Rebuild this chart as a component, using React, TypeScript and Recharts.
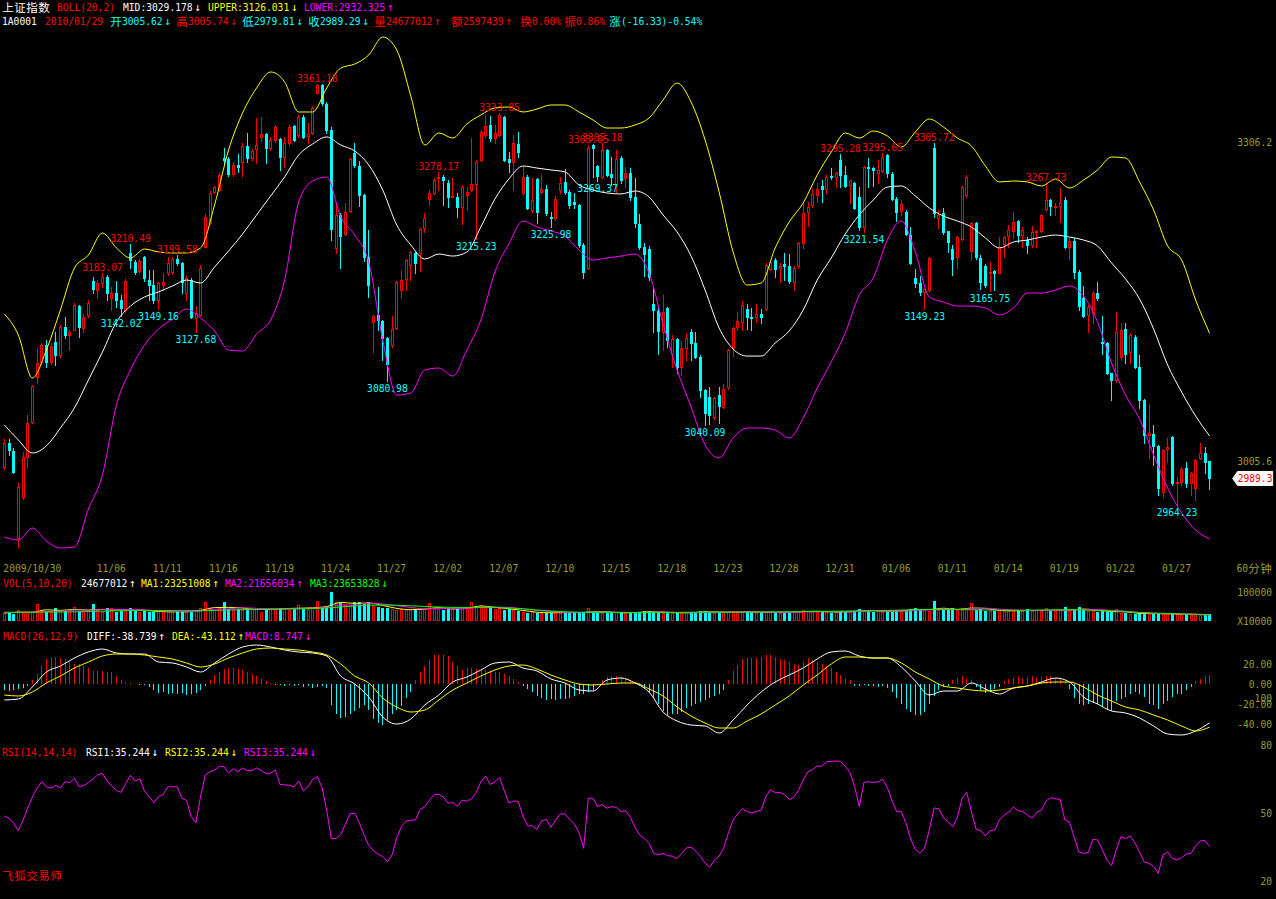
import React from "react";
import { ComposedChart, Bar, Line, XAxis, YAxis, ReferenceDot } from "recharts";

const RED = "#ff0000";
const CYAN = "#00ffff";
const YEL = "#ffff00";
const MAG = "#ff00ff";
const GRN = "#00ff00";
const WHITE = "#ffffff";
const OLIVE = "#9a9a32";
const MONO = "'DejaVu Sans Mono', 'Liberation Mono', monospace";
const CJK = "'Noto Sans CJK SC', sans-serif";

// 60-minute bars, 2009/10/30 .. 2010/01/29  [open, high, low, close]
const candles: [number, number, number, number][] = [
  [3000.1, 3026.5, 2998.2, 3022.7], [3022.7, 3026.5, 3011.4, 3016.1], [3015.2, 3018, 2994.4, 2995.4], [2933.2, 2985, 2924.7, 2981.2], [2971.8, 3014.2, 2969.9, 3009.5],
  [3009.5, 3049, 3000, 3041.5], [3042.5, 3077, 3042, 3076.4], [3084.9, 3112, 3079, 3098], [3099, 3117, 3097, 3115], [3115, 3120, 3094, 3099],
  [3099, 3117, 3097, 3114], [3118, 3127, 3096, 3106], [3106, 3134, 3104, 3132], [3132, 3141, 3122, 3124], [3124, 3129, 3110, 3127],
  [3129, 3155, 3129, 3153], [3152, 3153, 3123, 3132], [3131, 3144, 3127, 3141], [3143, 3157, 3141, 3155], [3175, 3179, 3164, 3168],
  [3167, 3176, 3159, 3173], [3173, 3183.07, 3170, 3179], [3179, 3181, 3157, 3164], [3159, 3170, 3148, 3164], [3164, 3175, 3151, 3157],
  [3157, 3162, 3142.02, 3150], [3148, 3177, 3146, 3175], [3202, 3210.49, 3188, 3195], [3193, 3195, 3182, 3184], [3185, 3196, 3183, 3194],
  [3198, 3199, 3175, 3178], [3176, 3186, 3157, 3172], [3172, 3186, 3155, 3157], [3157, 3174, 3149.16, 3173], [3172, 3183, 3167, 3174],
  [3183, 3198, 3181, 3192], [3184, 3198, 3182, 3196], [3196, 3199.58, 3190, 3192], [3192, 3193, 3164, 3174], [3164, 3180, 3157, 3178],
  [3176, 3178, 3140, 3141], [3140, 3151, 3127.68, 3145], [3143, 3190, 3142, 3188], [3207, 3238, 3207, 3236], [3230, 3260, 3229, 3258],
  [3259, 3265, 3258, 3264], [3261, 3277, 3260, 3275], [3291, 3301, 3285, 3289], [3290, 3292, 3274, 3276], [3276, 3287, 3274, 3285],
  [3285, 3295, 3278, 3283], [3287, 3305, 3274, 3302], [3302, 3315, 3287, 3291], [3291, 3300, 3289, 3298], [3300, 3329, 3286, 3303],
  [3311, 3330, 3307, 3314], [3314, 3315, 3286, 3301], [3301, 3311, 3299, 3308], [3308, 3322, 3306, 3320], [3309, 3310, 3280, 3292],
  [3292, 3311, 3283, 3305], [3305, 3322, 3303, 3320], [3321, 3322, 3307, 3308], [3313, 3332, 3311, 3330], [3330, 3332, 3310, 3311],
  [3312, 3324, 3305, 3314], [3315, 3340, 3314, 3338], [3352, 3361.18, 3352, 3360], [3360, 3361, 3341, 3343], [3342, 3344, 3315, 3318],
  [3318, 3320, 3214, 3224], [3206, 3249, 3202, 3237], [3237, 3239, 3188, 3218], [3220, 3249, 3219, 3240], [3241, 3291, 3240, 3290],
  [3296, 3305, 3283, 3285], [3284, 3288, 3246, 3256], [3256, 3257, 3194, 3198], [3198, 3223, 3160, 3172], [3137, 3143, 3108, 3142],
  [3143, 3170, 3129, 3139], [3138, 3139, 3101, 3122], [3122, 3123, 3080.98, 3097], [3115, 3142, 3113, 3130], [3131, 3175, 3130, 3174],
  [3167, 3186, 3159, 3176], [3177, 3196, 3167, 3195], [3190, 3204, 3176, 3203], [3202, 3203, 3183, 3192], [3202, 3225, 3185, 3224],
  [3225, 3239, 3221, 3235], [3253, 3261, 3247, 3258], [3258, 3272, 3257, 3270], [3272, 3278.17, 3261, 3273], [3273, 3275, 3247, 3270],
  [3268, 3270, 3245, 3254], [3254, 3272, 3254, 3255], [3254, 3258, 3236, 3245], [3245, 3266, 3229, 3264], [3256, 3264, 3242, 3259],
  [3261, 3310, 3260, 3267], [3267, 3289, 3215.23, 3287], [3289, 3318, 3288, 3316], [3313, 3332, 3311, 3321], [3322, 3331, 3307, 3310],
  [3310, 3322, 3305, 3315], [3313, 3333.85, 3312, 3332], [3330, 3331, 3288, 3289], [3290, 3297, 3278, 3287], [3287, 3313, 3261, 3305],
  [3304, 3316, 3292, 3297], [3258, 3283, 3256, 3273], [3273, 3275, 3243, 3244], [3242, 3272, 3240, 3252], [3271, 3272, 3230, 3240],
  [3259, 3275, 3258, 3262], [3262, 3266, 3237, 3239], [3236, 3240, 3225.98, 3235], [3235, 3255, 3233, 3253], [3261, 3273, 3258, 3268],
  [3269, 3281, 3257, 3259], [3259, 3261, 3244, 3247], [3250, 3258, 3244, 3248], [3247, 3248, 3207, 3209], [3209, 3211, 3178, 3184],
  [3188, 3303.05, 3187, 3301], [3303, 3304, 3273, 3301], [3284, 3285, 3269.37, 3274], [3273, 3305.18, 3272, 3299], [3299, 3300, 3274, 3275],
  [3276, 3292, 3266, 3273], [3265, 3299, 3259, 3290], [3291, 3293, 3268, 3270], [3272, 3283, 3264, 3277], [3277, 3282, 3252, 3254],
  [3254, 3272, 3226, 3230], [3229, 3238, 3205, 3207], [3207, 3211, 3180, 3201], [3205, 3208, 3176, 3179], [3154, 3169, 3127, 3148],
  [3147, 3150, 3107, 3128], [3127, 3162, 3110, 3146], [3150, 3151, 3113, 3120], [3107, 3124, 3094, 3121], [3121, 3122, 3089, 3094],
  [3094, 3119, 3087, 3112], [3112, 3126, 3101, 3122], [3127, 3130, 3101, 3117], [3117, 3127, 3103, 3104], [3104, 3106, 3066, 3073],
  [3073, 3074, 3040.09, 3051], [3066, 3075, 3041, 3049], [3047, 3066, 3045, 3065], [3068, 3075, 3042, 3058], [3057, 3078, 3056, 3074],
  [3075, 3111, 3074, 3110], [3112, 3132, 3105, 3131], [3132, 3146, 3129, 3138], [3137, 3156, 3129, 3153], [3149, 3154, 3130, 3141],
  [3141, 3150, 3129, 3140], [3141, 3154, 3137, 3144], [3144, 3149, 3136, 3141], [3149, 3192, 3148, 3190], [3187, 3195, 3186, 3193],
  [3195, 3197, 3179, 3187], [3188, 3192, 3174, 3189], [3191, 3202, 3176, 3189], [3189, 3201, 3173, 3175], [3174, 3189, 3167, 3188],
  [3189, 3212, 3188, 3211], [3211, 3249, 3206, 3239], [3240, 3250, 3227, 3245], [3247, 3262, 3245, 3257], [3256, 3268, 3250, 3262],
  [3265, 3270, 3250, 3262], [3262, 3275, 3258, 3273], [3274, 3282, 3271, 3273], [3273, 3278, 3264, 3277], [3289, 3295.28, 3264, 3275],
  [3275, 3284, 3264, 3265], [3266, 3270, 3249, 3270], [3268, 3269, 3243, 3244], [3254, 3264, 3223, 3226], [3226, 3284, 3221.54, 3283],
  [3283, 3291, 3264, 3282], [3282, 3283, 3265, 3280], [3277, 3289, 3268, 3280], [3279, 3295.65, 3278, 3292], [3294, 3295, 3273, 3277],
  [3276, 3278, 3252, 3253], [3253, 3254, 3232, 3240], [3241, 3252, 3237, 3248], [3240, 3242, 3219, 3220], [3219, 3226, 3191, 3192],
  [3178, 3187, 3170, 3173], [3173, 3180, 3162, 3165], [3165, 3169, 3149.23, 3168], [3167, 3198, 3166, 3197], [3301, 3305.72, 3236, 3239],
  [3235, 3242, 3225, 3237], [3239, 3244, 3220, 3221], [3222, 3222, 3203, 3212], [3205, 3209, 3181, 3196], [3198, 3218, 3188, 3217],
  [3215, 3265, 3214, 3264], [3256, 3275, 3254, 3273], [3204, 3231, 3195, 3230], [3230, 3231, 3196, 3198], [3197, 3200, 3168, 3174],
  [3189, 3191, 3170, 3172], [3183, 3193, 3165.75, 3184], [3185, 3186, 3167, 3183], [3183, 3217, 3183, 3207], [3210, 3218, 3198, 3217],
  [3218, 3228, 3207, 3223], [3222, 3240, 3216, 3231], [3232, 3233, 3212, 3219], [3219, 3226, 3207, 3223], [3214, 3217, 3202, 3209],
  [3209, 3227, 3207, 3221], [3221, 3223, 3207, 3222], [3222, 3238, 3221, 3237], [3243, 3267.73, 3242, 3252], [3252, 3253, 3237, 3246],
  [3245, 3249, 3237, 3246], [3246, 3263, 3231, 3249], [3252, 3254, 3206, 3207], [3207, 3216, 3196, 3213], [3213, 3216, 3178, 3184],
  [3184, 3186, 3148, 3152], [3159, 3171, 3141, 3142], [3143, 3153, 3127, 3151], [3145, 3166, 3136, 3164], [3164, 3174, 3157, 3159],
  [3118, 3142, 3107, 3117], [3117, 3118, 3088, 3089], [3089, 3089, 3063, 3082], [3082, 3146, 3080, 3127], [3104, 3136, 3101, 3129],
  [3130, 3136, 3098, 3107], [3108, 3126, 3098, 3124], [3123, 3124, 3093, 3094], [3094, 3106, 3056, 3063], [3063, 3064, 3023, 3030],
  [3030, 3059, 3009, 3032], [3031, 3040, 3002, 3020], [3020, 3021, 2974, 2980], [2977, 3017, 2972, 3016], [3017, 3027, 3005, 3019],
  [3028, 3029, 2983, 2985], [2985, 2991, 2964.23, 2986], [2986, 3000, 2983, 2998], [2999, 3005, 2981, 2985], [2985, 2995, 2974, 2994],
  [2980, 3008, 2969, 3007], [3009, 3023, 3008, 3013], [3013, 3019, 2994, 3005], [3005.62, 3005.74, 2979.81, 2989.29],
];

// BOLL(20,2), read every third bar
const bollUpper = [
  3144.2, 3124.4, 3083.9, 3110.3, 3148, 3187.5, 3199.8, 3220.5, 3206.4, 3197,
  3205.4, 3202.6, 3201.7, 3201.7, 3206.4, 3246.9, 3298.7, 3333.6, 3357.1, 3372.2,
  3362.8, 3334.5, 3334.5, 3357.1, 3375.9, 3379.7, 3388.2, 3405.1, 3392.9, 3349.6,
  3303.4, 3314.7, 3310, 3323.2, 3331.7, 3338.3, 3339.2, 3334.5, 3337.3, 3341.1,
  3341.1, 3334.5, 3327, 3319.4, 3319.4, 3322.3, 3328.8, 3345.8, 3361.8, 3343.9,
  3308.1, 3259.1, 3202.6, 3171.5, 3173.4, 3206.4, 3230.9, 3248.8, 3275.2, 3296.8,
  3314.7, 3310, 3316.6, 3311.9, 3301.5, 3315.7, 3327.9, 3320.4, 3310, 3302.5,
  3283.6, 3268.6, 3269.5, 3268.6, 3264.8, 3271.4, 3262.9, 3270.4, 3279.9, 3292.1,
  3291.2, 3268.6, 3242.2, 3208.3, 3195.1, 3157.4, 3126.0,
];
const bollMid = [
  3039.7, 3025.5, 3013.3, 3019.9, 3036.8, 3055.7, 3082, 3108.4, 3136.7, 3151.7,
  3160.2, 3165, 3170.6, 3176.2, 3173.4, 3188.5, 3203.6, 3219.6, 3237.5, 3255.4,
  3273.3, 3294, 3304.4, 3311, 3303.4, 3297.8, 3284.6, 3261, 3228, 3209.2,
  3196, 3200.7, 3198.8, 3202.6, 3226.2, 3252.5, 3271.4, 3283.6, 3281.7, 3279.9,
  3278, 3265.7, 3261, 3258.2, 3257.3, 3260.1, 3254.4, 3237.5, 3221.5, 3198.8,
  3166.8, 3131, 3111.2, 3104.6, 3104.6, 3116.9, 3128.2, 3148, 3176.2, 3197,
  3219.6, 3237.5, 3251.6, 3263.8, 3264.8, 3255.4, 3244.1, 3236.5, 3231.8, 3226.2,
  3215.8, 3206.4, 3212, 3213.9, 3216.7, 3218.6, 3216.7, 3213.9, 3208.3, 3192.3,
  3177.2, 3158.3, 3130.1, 3096.2, 3070.7, 3048.1, 3029.2,
];
const bollLower = [
  2934.1, 2931.3, 2942.6, 2930.4, 2923.8, 2924.7, 2960.5, 2992.6, 3058.5, 3091.5,
  3115, 3130.1, 3139.5, 3148.9, 3140.4, 3128.2, 3110.3, 3109.4, 3125.4, 3138.6,
  3176.2, 3249.7, 3269.5, 3273.3, 3236, 3218.6, 3193.2, 3119.7, 3067.9, 3069.8,
  3091.5, 3093.3, 3085.8, 3110.3, 3138.6, 3183.8, 3210.2, 3231.8, 3226.2, 3222.4,
  3217.7, 3204.5, 3195.1, 3197, 3198.8, 3200.7, 3182.8, 3134.8, 3091.5, 3056.6,
  3020.8, 3008.6, 3027.4, 3036.8, 3036.8, 3034.9, 3027.4, 3046.2, 3074.5, 3099,
  3126.3, 3162.1, 3178.1, 3213.9, 3231.8, 3202.6, 3160.2, 3155.5, 3151.7, 3151.7,
  3149.9, 3143.3, 3149.9, 3164, 3164, 3166.8, 3170.6, 3161.2, 3136.7, 3098,
  3067.9, 3045.3, 3011.4, 2980.3, 2956.8, 2940.7, 2932.3,
];

// volume, in 10000 shares
const volumes = [
  2970, 3340, 2600, 4080, 2930, 3380, 3300, 6310, 4080, 3710,
  3300, 4820, 3710, 3650, 4080, 5190, 3340, 3760, 4080, 6310,
  4080, 3340, 4820, 4750, 3340, 3710, 4100, 4820, 4080, 3340,
  3710, 3340, 3300, 3710, 3380, 3340, 3290, 3340, 3710, 3340,
  3710, 4080, 4820, 7050, 4820, 4080, 4820, 7050, 4450, 4080,
  4450, 4080, 4010, 4450, 4520, 3340, 4450, 4820, 4450, 4820,
  4450, 4080, 4450, 5940, 4820, 4450, 4820, 7420, 4820, 5190,
  10760, 7050, 6680, 5940, 5940, 7050, 7050, 6310, 7050, 5570,
  5190, 4820, 4820, 4450, 4080, 4450, 4080, 4080, 4450, 4450,
  4820, 6680, 4450, 4450, 4080, 4450, 4820, 4450, 4820, 4820,
  7050, 5190, 5940, 5190, 4820, 4450, 4820, 4080, 4450, 4080,
  3710, 3340, 2970, 3340, 2970, 3050, 2900, 2970, 3340, 2970,
  2970, 3050, 2930, 3340, 2970, 4820, 2970, 3340, 2970, 2930,
  2970, 3340, 2970, 3010, 2970, 3340, 3340, 3710, 3710, 2970,
  3340, 2970, 2930, 2970, 3010, 2970, 3340, 2970, 3340, 3710,
  3710, 3340, 2970, 2970, 3340, 3340, 3710, 3340, 3340, 3710,
  3340, 2970, 2970, 3340, 3340, 3340, 2970, 2970, 3340, 3340,
  3710, 4080, 3710, 3340, 3340, 3710, 3340, 2970, 3340, 3710,
  3340, 3340, 3710, 4450, 3710, 3710, 3340, 3710, 3340, 3710,
  3710, 4080, 3710, 4080, 4450, 4820, 4080, 4080, 3710, 7420,
  4080, 4450, 4080, 4820, 4080, 4080, 4450, 6680, 4080, 4450,
  3710, 3710, 3710, 4080, 3710, 3710, 3710, 3710, 3710, 4450,
  3710, 4080, 3710, 4820, 3710, 3710, 4080, 5190, 3710, 4080,
  5190, 4080, 3710, 3710, 3340, 3710, 3340, 3340, 4450, 2970,
  2970, 2600, 2600, 2970, 2970, 2600, 2600, 2970, 2600, 2600,
  2600, 2600, 2230, 2600, 2230, 2600, 2230, 2230, 2467.7,
];

// VOL(5,10,20) averages, read every third bar
const volMa1 = [
  2970, 3250, 3260, 4160, 3930, 4300, 4080, 4300, 4080, 4160,
  4010, 3490, 3410, 3410, 3930, 4970, 5050, 4820, 4300, 4300,
  4600, 4750, 4900, 5340, 6900, 6530, 6680, 5790, 4670, 4230,
  4380, 4970, 4450, 4670, 5570, 5120, 4530, 3930, 3260, 3040,
  3120, 3120, 3410, 3410, 3040, 3120, 3410, 3340, 3040, 3040,
  3410, 3340, 3260, 3490, 3260, 3190, 3190, 3490, 3640, 3340,
  3340, 3710, 3780, 3560, 3710, 4230, 4230, 4750, 4300, 4820,
  4670, 3930, 3780, 3860, 3930, 4010, 4080, 4450, 4010, 3490,
  3410, 2820, 2750, 2670, 2520, 2450, 2325.1,
];
const volMa2 = [
  3150, 3190, 3230, 3520, 3600, 4040, 4010, 4190, 4190, 4230,
  4080, 3820, 3640, 3450, 3670, 4380, 4490, 4930, 4670, 4560,
  4450, 4530, 4750, 5050, 5940, 5940, 6600, 6310, 5680, 5010,
  4490, 4670, 4710, 4560, 5120, 5160, 5050, 4530, 3900, 3520,
  3190, 3080, 3260, 3260, 3230, 3080, 3230, 3340, 3190, 3040,
  3230, 3190, 3340, 3410, 3380, 3230, 3190, 3340, 3410, 3490,
  3340, 3520, 3750, 3640, 3640, 3970, 4080, 4490, 4270, 4560,
  4750, 4380, 4120, 3900, 3860, 3930, 4040, 4230, 4230, 3930,
  3640, 3120, 2820, 2710, 2600, 2490, 2165.6,
];
const volMa3 = [
  3230, 3230, 3260, 3300, 3340, 3410, 3520, 3640, 3780, 3860,
  3900, 3900, 3860, 3820, 3820, 3930, 4080, 4230, 4300, 4380,
  4450, 4530, 4600, 4820, 5190, 5570, 5860, 5940, 5860, 5640,
  5380, 5190, 5050, 5010, 5050, 5010, 4820, 4530, 4080, 3710,
  3410, 3260, 3190, 3230, 3190, 3150, 3150, 3150, 3190, 3260,
  3300, 3260, 3260, 3300, 3340, 3410, 3450, 3490, 3520, 3600,
  3670, 3780, 3860, 3930, 4040, 4160, 4270, 4300, 4270, 4160,
  4080, 4010, 3970, 4010, 4080, 4120, 4160, 4080, 3900, 3710,
  3450, 3190, 2970, 2780, 2600, 2490, 2365.4,
];

// MACD(26,12,9): DIFF and DEA read every third bar, histogram every bar
const macdDiff = [
  -16, -15, -3, 12, 18, 26, 32, 35, 31, 30,
  30, 22, 21, 17, 12, 21, 30, 37, 39, 37,
  34, 32, 31, 28, 8, 0, -13, -33, -40, -35,
  -21, -11, 2, 7, 14, 21, 22, 16, 13, 5,
  1, -6, -7, 4, 6, 1, -8, -28, -37, -41,
  -42, -49, -36, -21, -8, 2, 9, 16, 25, 32,
  33, 28, 26, 26, 17, 3, -11, -7, -7, 1,
  -5, -10, -4, -2, 2, 6, 2, -13, -20, -27,
  -29, -34, -42, -50, -51, -47, -38.739,
];
const macdDea = [
  -11, -12, -8, 1, 8, 16, 22, 28, 30, 30,
  29, 27, 25, 21, 17, 20, 26, 31, 35, 36,
  35, 34, 32, 29, 20, 8, 1, -14, -23, -28,
  -26, -16, -6, 1, 8, 14, 18, 19, 15, 9,
  4, 0, -1, 0, 1, 1, -5, -12, -23, -32,
  -39, -44, -44, -37, -30, -21, -12, -1, 9, 20,
  27, 27, 26, 26, 21, 12, 5, -2, -4, -6,
  -7, -6, -4, -2, 1, 2, 2, -3, -11, -17,
  -23, -26, -31, -36, -42, -47, -43.112,
];
const macdHist = [
  -6, -7, -6, -5, -4, -2, 4, 10, 18, 25,
  26, 27, 26, 25, 22, 20, 20, 18, 16, 13,
  13, 13, 12, 12, 8, 4, 2, 1, 0, -1,
  -1, -3, -6, -9, -8, -10, -9, -10, -9, -11,
  -10, -9, -6, -2, 4, 9, 12, 15, 16, 16,
  15, 14, 12, 10, 8, 5, 3, 1, -1, -1,
  -2, -1, -2, -1, -3, -2, -4, -3, -2, -4,
  -21, -30, -34, -33, -30, -27, -24, -21, -26, -35,
  -39, -41, -36, -30, -26, -22, -14, -8, 4, 12,
  18, 24, 29, 29, 29, 28, 22, 18, 14, 16,
  16, 15, 14, 14, 13, 12, 12, 10, 8, 5,
  2, -2, -5, -8, -12, -14, -16, -15, -16, -15,
  -15, -14, -12, -10, -10, -8, -6, 0, 4, 7,
  8, 8, 7, 6, 4, 2, -1, -4, -8, -14,
  -20, -27, -31, -30, -30, -28, -24, -22, -20, -18,
  -16, -14, -12, -10, -6, 4, 13, 19, 25, 26,
  26, 26, 27, 29, 29, 27, 25, 24, 22, 20,
  19, 22, 26, 24, 22, 20, 18, 16, 12, 9,
  6, 4, -2, -2, -1, -2, -2, -3, -2, -4,
  -8, -14, -20, -25, -28, -31, -31, -28, -20, -12,
  -6, -3, -2, 4, 6, 8, 5, 4, -3, -6,
  -9, -8, -5, -3, 3, 5, 6, 8, 6, 7,
  8, 6, 7, 8, 8, 6, 5, 2, -5, -14,
  -20, -21, -20, -19, -20, -23, -25, -27, -17, -15,
  -13, -10, -8, -10, -13, -20, -21, -25, -20, -17,
  -13, -10, -10, -6, -3, 3, 5, 8, 8.747,
];

// RSI(14,14,14) - the three lines coincide
const rsiValues = [
  48.7, 47.7, 45.5, 42.2, 46.9, 52.1, 57.1, 60.9, 63.8, 61.5,
  61, 62.2, 61, 63.8, 63.4, 65.3, 61.6, 62.1, 63.4, 65,
  66.8, 67.5, 64.1, 61.9, 60, 59.1, 63.1, 66.6, 64.1, 65.1,
  59.7, 57.2, 54.6, 57.2, 58.2, 61.5, 61.6, 61.6, 56.5, 55.6,
  48.4, 45.7, 57.2, 66.6, 68.2, 68.8, 70.7, 70.4, 67.6, 69.6,
  68.2, 69.9, 68.7, 68.7, 69.9, 68.7, 67.5, 67.5, 69, 62.6,
  62.4, 62.2, 61.5, 64.1, 59.7, 61.6, 64.9, 66, 61.3, 51.3,
  38.7, 38.8, 40.5, 45, 49.7, 49.9, 45.5, 40.3, 35.7, 33.4,
  31.8, 30.8, 28.5, 31.5, 39.1, 44, 46.5, 46.8, 46.9, 51.6,
  52.8, 55.6, 58.1, 58.2, 56.9, 54.3, 54.6, 52.9, 55.7, 55.2,
  56.3, 59, 63.8, 66.2, 62.6, 63.8, 65.7, 59.9, 54.4, 55.3,
  55, 48.7, 44.3, 44.4, 42.8, 46.5, 47.2, 43.7, 46.9, 49.6,
  49.6, 47.2, 45.2, 41.3, 34.4, 56.5, 56.5, 52.8, 53.7, 52.1,
  52.8, 52.5, 50.7, 51, 48.1, 43.7, 40.3, 38.7, 36.6, 32.2,
  31.5, 32.2, 31.2, 30.9, 29.9, 32.2, 34.6, 34.9, 33.2, 30.9,
  27.9, 26, 29.3, 30.9, 34.7, 41.3, 46.9, 49.7, 51.9, 50.6,
  50, 50.6, 51.3, 57.2, 60.2, 59, 59, 58.2, 56, 56.9,
  60, 64.6, 68.1, 69.1, 70.7, 70.7, 72.6, 72.8, 72.9, 72.8,
  70.6, 67.9, 61.6, 52.8, 63.5, 63.8, 63.5, 63.7, 64.9, 61.3,
  55.4, 50.6, 50.6, 45.5, 38.5, 34, 32.2, 34.7, 42.5, 52.2,
  51.9, 47.9, 46.2, 44, 48.1, 56.4, 59.1, 50.6, 42.9, 42.2,
  39.9, 42.2, 42.5, 46.9, 49.1, 50.4, 52.7, 50.9, 50.7, 49,
  47.8, 50.3, 51.3, 55.4, 56.8, 56.3, 56, 46.9, 46, 39.3,
  32.8, 32.2, 32.5, 38.4, 38.1, 34, 29.3, 26.8, 33.7, 39.6,
  38.7, 39.9, 36.9, 32.7, 28.4, 27.8, 26.5, 23.4, 31.5, 32.8,
  30, 29.3, 30.3, 31.9, 32.2, 35.5, 37.7, 37.8, 35.244,
];

const dateTicks = [0, 20, 32, 44, 56, 68, 80, 92, 104, 116, 128, 140, 152, 164, 176, 188, 200, 212, 224, 236, 248];
const dateLabels = [
  "2009/10/30", "11/06", "11/11", "11/16", "11/19", "11/24", "11/27", "12/02", "12/07", "12/10", "12/15",
  "12/18", "12/23", "12/28", "12/31", "01/06", "01/11", "01/14", "01/19", "01/22", "01/27",
];

// marked highs (h) and lows (l): [bar, price, kind]
const extremes: [number, number, string][] = [
  [21, 3183.07, "h"], [27, 3210.49, "h"], [37, 3199.58, "h"], [25, 3142.02, "l"], [33, 3149.16, "l"], [41, 3127.68, "l"],
  [67, 3361.18, "h"], [82, 3080.98, "l"], [93, 3278.17, "h"], [101, 3215.23, "l"], [106, 3333.85, "h"], [117, 3225.98, "l"],
  [125, 3303.05, "h"], [128, 3305.18, "h"], [127, 3269.37, "l"], [150, 3040.09, "l"], [179, 3295.28, "h"], [188, 3295.65, "h"],
  [184, 3221.54, "l"], [199, 3305.72, "h"], [197, 3149.23, "l"], [211, 3165.75, "l"], [223, 3267.73, "h"], [251, 2964.23, "l"],
];

const lastClose = 2989.29;

const rows = candles.map(([o, h, l, c], i) => {
  const k = i % 3 === 0 ? i / 3 : -1;
  const at = (arr: number[]) => (k >= 0 ? arr[k] : null);
  return {
    i, open: o, high: h, low: l, close: c, up: c >= o, range: [l, h],
    upper: at(bollUpper), mid: at(bollMid), lower: at(bollLower),
    vol: volumes[i], ma1: at(volMa1), ma2: at(volMa2), ma3: at(volMa3),
    hist: macdHist[i], diff: at(macdDiff), dea: at(macdDea),
    rsi: rsiValues[i],
  };
});

// ---- text in the pixel-font style: narrow latin, full-width CJK and arrows
const NARROW = 5.8;
const isArrow = (ch: string) => ch === "↑" || ch === "↓";
const isCjk = (ch: string) => /[\u3000-\u9fff\uff00-\uffef]/.test(ch);
const charW = (ch: string) => (isArrow(ch) ? 10 : isCjk(ch) ? 12 : NARROW);
const textWidth = (s: string) => Array.from(s).reduce((w, ch) => w + charW(ch), 0);

function Txt({ x, y, text, color, anchor }: any) {
  const w = textWidth(text);
  let cx = anchor === "end" ? x - w : anchor === "middle" ? x - w / 2 : x;
  const out: any[] = [];
  let buf = "";
  let bx = cx;
  const flush = () => {
    if (!buf) return;
    out.push(
      <text key={out.length} x={bx} y={y + 4} fill={color} fontSize={11} fontFamily={MONO}
        textLength={buf.length * NARROW} lengthAdjust="spacingAndGlyphs">{buf}</text>
    );
    buf = "";
  };
  for (const ch of Array.from(text as string)) {
    if (isArrow(ch) || isCjk(ch)) {
      flush();
      const cw = charW(ch);
      out.push(
        <text key={out.length} x={cx + cw / 2} y={y + (isCjk(ch) ? 4.5 : 4)} textAnchor="middle" fill={color}
          fontSize={isCjk(ch) ? 11.5 : 11} fontFamily={isCjk(ch) ? CJK : MONO}>{ch}</text>
      );
      cx += cw;
    } else {
      if (!buf) bx = cx;
      buf += ch;
      cx += NARROW;
    }
  }
  flush();
  return <g>{out}</g>;
}

function Candle(props: any) {
  const { x, y, width, height, payload } = props;
  if (x == null || !payload) return null;
  const { open, high, low, close, up } = payload;
  const top0 = Math.min(y, y + height);
  const hgt = Math.abs(height);
  const span = high - low || 1;
  const py = (p: number) => Math.round(top0 + ((high - p) / span) * hgt);
  const cx = Math.floor(x + width / 2);
  const wx = cx + 0.5;
  const yh = py(high);
  const yl = py(low);
  const bt = py(Math.max(open, close));
  const bb = py(Math.min(open, close));
  if (up) {
    return (
      <g shapeRendering="crispEdges">
        {yh < bt && <line x1={wx} x2={wx} y1={yh} y2={bt} stroke={RED} />}
        {yl > bb && <line x1={wx} x2={wx} y1={bb + 1} y2={yl + 1} stroke={RED} />}
        <rect x={cx - 0.5} y={bt + 0.5} width={2} height={Math.max(bb - bt, 1)} fill="#000" stroke={RED} />
      </g>
    );
  }
  return (
    <g shapeRendering="crispEdges">
      <line x1={wx} x2={wx} y1={yh} y2={yl + 1} stroke={CYAN} />
      <rect x={cx - 1} y={bt} width={3} height={Math.max(bb - bt, 1) + 1} fill={CYAN} />
    </g>
  );
}

function VolBar(props: any) {
  const { x, y, width, height, payload } = props;
  if (x == null || !payload) return null;
  const cx = Math.floor(x + width / 2);
  const top = Math.round(Math.min(y, y + height));
  const bot = Math.round(Math.max(y, y + height));
  if (payload.up) {
    return <rect x={cx - 0.5} y={top + 0.5} width={2} height={Math.max(bot - top - 1, 1)} fill="#000" stroke={RED} shapeRendering="crispEdges" />;
  }
  return <rect x={cx - 1} y={top} width={3} height={bot - top} fill={CYAN} shapeRendering="crispEdges" />;
}

function HistBar(props: any) {
  const { x, y, width, height, payload } = props;
  if (x == null || !payload) return null;
  const cx = Math.floor(x + width / 2) + 0.5;
  const y1 = Math.round(Math.min(y, y + height));
  const y2 = Math.round(Math.max(y, y + height));
  return <line x1={cx} x2={cx} y1={y1} y2={y2} stroke={payload.hist >= 0 ? RED : CYAN} shapeRendering="crispEdges" />;
}

const rightTick = (digits: number) => (p: any) => (
  <Txt x={1272} y={p.y} text={Number(p.payload.value).toFixed(digits)} color={OLIVE} anchor="end" />
);

const dateTick = (p: any) => {
  const n = dateTicks.indexOf(Number(p.payload.value));
  return <Txt x={p.x - 1} y={568} text={n >= 0 ? dateLabels[n] : ""} color={OLIVE} />;
};

const line = (key: string, color: string, smooth = true) => (
  <Line dataKey={key} stroke={color} strokeWidth={1} dot={false} activeDot={false} connectNulls
    type={smooth ? "monotone" : "linear"} isAnimationActive={false} />
);

const header1 = [
  [2, "上证指数", WHITE], [57, "BOLL(20,2)", RED], [123, "MID:3029.178↓", WHITE],
  [208, "UPPER:3126.031↓", YEL], [304, "LOWER:2932.325↑", MAG],
];
const header2 = [
  [2, "1A0001", WHITE], [45, "2010/01/29", RED], [110, "开3005.62↓", CYAN], [176, "高3005.74↓", RED],
  [242, "低2979.81↓", CYAN], [308, "收2989.29↓", CYAN], [374, "量24677012↑", RED], [451, "额2597439↑", RED],
  [520, "换0.00%", RED], [564, "振0.86%", RED], [609, "涨(-16.33)-0.54%", CYAN],
];
const volHeader = [
  [3, "VOL(5,10,20)", RED], [81, "24677012↑", WHITE], [141, "MA1:23251008↑", YEL],
  [225, "MA2:21656034↑", MAG], [310, "MA3:23653828↓", GRN],
];
const macdHeader = [
  [3, "MACD(26,12,9)", RED], [87, "DIFF:-38.739↑", WHITE], [172, "DEA:-43.112↑", YEL], [245, "MACD:8.747↓", MAG],
];
const rsiHeader = [
  [2, "RSI(14,14,14)", RED], [86, "RSI1:35.244↓", WHITE], [165, "RSI2:35.244↓", YEL], [244, "RSI3:35.244↓", MAG],
];

const row = (items: any[], y: number) =>
  items.map(([x, t, c], n) => <Txt key={`${y}-${n}`} x={x} y={y} text={t} color={c} />);

export default function App() {
  return (
    <div style={{ position: "fixed", left: 0, top: 0, width: 1276, height: 899, background: "#000", overflow: "hidden" }}>
      {/* price panel */}
      <div style={{ position: "absolute", left: 0, top: 0 }}>
        <ComposedChart width={1276} height={575} data={rows} margin={{ top: 30, right: 0, left: 2, bottom: 0 }} barCategoryGap={0}>
          <XAxis dataKey="i" ticks={dateTicks} interval={0} tickLine={false} axisLine={false} height={25} tick={dateTick} />
          <YAxis orientation="right" width={64} domain={[2921.9, 3411.74]} allowDataOverflow ticks={[3005.6, 3306.2]}
            interval={0} tickLine={false} axisLine={false} tick={rightTick(1)} />
          <Bar dataKey="range" shape={Candle} isAnimationActive={false} />
          {line("upper", YEL)}
          {line("mid", WHITE)}
          {line("lower", MAG)}
          {extremes.map(([i, v, kind]) => (
            <ReferenceDot key={`${i}-${kind}`} x={i} y={v} r={0}
              shape={(p: any) => (
                <Txt x={p.cx} y={kind === "h" ? p.cy - 6 : p.cy + 7} text={v.toFixed(2)} color={kind === "h" ? RED : CYAN} anchor="middle" />
              )} />
          ))}
          <ReferenceDot x={candles.length - 1} y={lastClose} r={0}
            shape={(p: any) => (
              <g>
                <polygon
                  points={`${p.cx + 23},${p.cy} ${p.cx + 28},${p.cy - 7} ${p.cx + 63},${p.cy - 7} ${p.cx + 63},${p.cy + 7} ${p.cx + 28},${p.cy + 7}`}
                  fill="#ffffff" stroke="#ffffff" />
                <Txt x={p.cx + 28} y={p.cy} text={lastClose.toFixed(1)} color={RED} />
              </g>
            )} />
        </ComposedChart>
      </div>

      {/* volume panel */}
      <div style={{ position: "absolute", left: 0, top: 590 }}>
        <ComposedChart width={1276} height={31} data={rows} margin={{ top: 0, right: 64, left: 2, bottom: 0 }} barCategoryGap={0}>
          <XAxis dataKey="i" hide />
          <YAxis hide domain={[0, 11500]} allowDataOverflow />
          <Bar dataKey="vol" shape={VolBar} isAnimationActive={false} />
          {line("ma1", YEL)}
          {line("ma2", MAG)}
          {line("ma3", GRN)}
        </ComposedChart>
      </div>

      {/* MACD panel */}
      <div style={{ position: "absolute", left: 0, top: 640 }}>
        <ComposedChart width={1276} height={100} data={rows} margin={{ top: 0, right: 0, left: 2, bottom: 0 }} barCategoryGap={0}>
          <XAxis dataKey="i" hide />
          <YAxis orientation="right" width={64} domain={[-56, 44]} allowDataOverflow ticks={[20, 0, -20, -40]}
            interval={0} tickLine={false} axisLine={false} tick={rightTick(2)} />
          <Bar dataKey="hist" shape={HistBar} isAnimationActive={false} />
          {line("diff", WHITE)}
          {line("dea", YEL)}
        </ComposedChart>
      </div>

      {/* RSI panel */}
      <div style={{ position: "absolute", left: 0, top: 740 }}>
        <ComposedChart width={1276} height={150} data={rows} margin={{ top: 0, right: 0, left: 2, bottom: 0 }}>
          <XAxis dataKey="i" hide padding={{ left: 2.34, right: 2.34 }} />
          <YAxis orientation="right" width={64} domain={[16.03, 82.2]} allowDataOverflow ticks={[80, 50, 20]}
            interval={0} tickLine={false} axisLine={false} tick={rightTick(0)} />
          {line("rsi", MAG, false)}
        </ComposedChart>
      </div>

      {/* headers and captions */}
      <svg width={1276} height={899} style={{ position: "absolute", left: 0, top: 0, pointerEvents: "none" }}>
        {row(header1, 7)}
        {row(header2, 21)}
        {row(volHeader, 583)}
        {row(macdHeader, 636)}
        {row(rsiHeader, 752)}
        <Txt x={2} y={875} text="飞狐交易师" color={RED} />
        <Txt x={1272} y={568} text="60分钟" color={OLIVE} anchor="end" />
        <Txt x={1272} y={592} text="100000" color={OLIVE} anchor="end" />
        <Txt x={1272} y={621} text="X10000" color={OLIVE} anchor="end" />
        <Txt x={1272} y={698} text="100" color={OLIVE} anchor="end" />
      </svg>
    </div>
  );
}
